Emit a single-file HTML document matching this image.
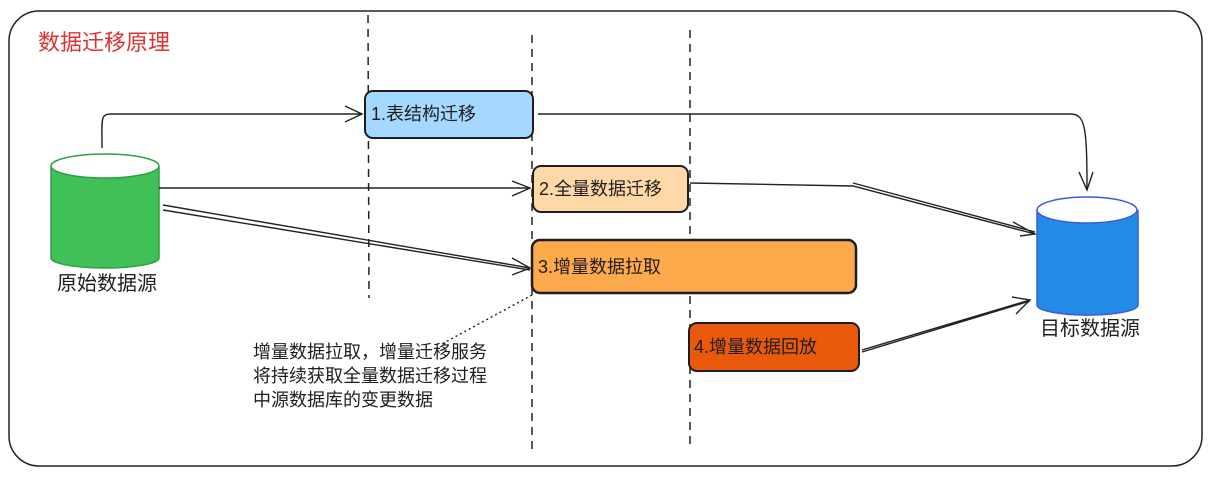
<!DOCTYPE html>
<html><head><meta charset="utf-8"><style>
body{margin:0;background:#fff;}
svg text{font-family:"Liberation Sans","Noto Sans CJK SC",sans-serif;}
</style></head><body>
<svg width="1211" height="474" viewBox="0 0 1211 474" xmlns="http://www.w3.org/2000/svg">
<rect x="9" y="11" width="1193" height="455" rx="30" fill="none" stroke="#222" stroke-width="1.5"/>
<text x="38" y="50" font-size="22" fill="#e03131">数据迁移原理</text>
<g stroke="#222" stroke-width="1.5" stroke-dasharray="8,6" fill="none">
<line x1="368" y1="15" x2="369" y2="298"/>
<line x1="532" y1="35" x2="532" y2="450"/>
<line x1="690" y1="30" x2="690" y2="450"/>
</g>
<rect x="365" y="91" width="168" height="47" rx="8" fill="#a5d8ff" stroke="#1e1e1e" stroke-width="2"/>
<text x="371" y="120" font-size="18" fill="#1e1e1e">1.表结构迁移</text>
<rect x="533" y="166" width="155" height="46" rx="8" fill="#ffd8a8" stroke="#1e1e1e" stroke-width="2"/>
<text x="539" y="195" font-size="18" fill="#1e1e1e">2.全量数据迁移</text>
<rect x="532" y="240" width="324" height="53" rx="8" fill="#ffa94d" stroke="#1e1e1e" stroke-width="2.5"/>
<text x="538" y="273" font-size="18" fill="#1e1e1e">3.增量数据拉取</text>
<rect x="689" y="323" width="170" height="48" rx="8" fill="#e8590c" stroke="#1e1e1e" stroke-width="2"/>
<text x="694" y="353" font-size="18" fill="#1e1e1e">4.增量数据回放</text>
<path d="M51 166 L51 258 A54 10 0 0 0 159 258 L159 166" fill="#40c057" stroke="#2f9e44" stroke-width="1.5"/>
<ellipse cx="105" cy="166" rx="54" ry="12" fill="#fff" stroke="#2f9e44" stroke-width="1.5"/>
<text x="57" y="290" font-size="20" fill="#1e1e1e">原始数据源</text>
<path d="M1037 210 L1037 305 A50 10 0 0 0 1138 305 L1138 210" fill="#228be6" stroke="#3b5bdb" stroke-width="1.5"/>
<ellipse cx="1087" cy="210" rx="50" ry="13" fill="#fff" stroke="#3b5bdb" stroke-width="1.5"/>
<text x="1040" y="335" font-size="20" fill="#1e1e1e">目标数据源</text>
<g stroke="#222" stroke-width="1.4" fill="none">
<path d="M102 148 C102 118 100 114 112 114 L362 114"/>
<path d="M345 106 L362 114 L345 122"/>
<path d="M538 114 L1070 114 C1085 114 1087 125 1087 190"/>
<path d="M1079 172 L1087 190 L1093 172"/>
<path d="M159 188 L530 188"/>
<path d="M512 181 L530 188 L512 196"/>
<path d="M163 205 L530 268 M163 210 L530 270"/>
<path d="M512 258 L530 268 L512 275"/>
<path d="M690 183 L853 186 L1035 234 M853 183 L1035 232"/>
<path d="M1013 222 L1035 234 L1020 236"/>
<path d="M862 350 L1030 300 M862 352 L1030 301"/>
<path d="M1012 297 L1030 300 L1016 314"/>
<path d="M532 295 L440 345" stroke-dasharray="2,3"/>
</g>
<g font-size="18" fill="#1e1e1e">
<text x="253" y="358">增量数据拉取，增量迁移服务</text>
<text x="253" y="382">将持续获取全量数据迁移过程</text>
<text x="253" y="406">中源数据库的变更数据</text>
</g>
</svg>
</body></html>
